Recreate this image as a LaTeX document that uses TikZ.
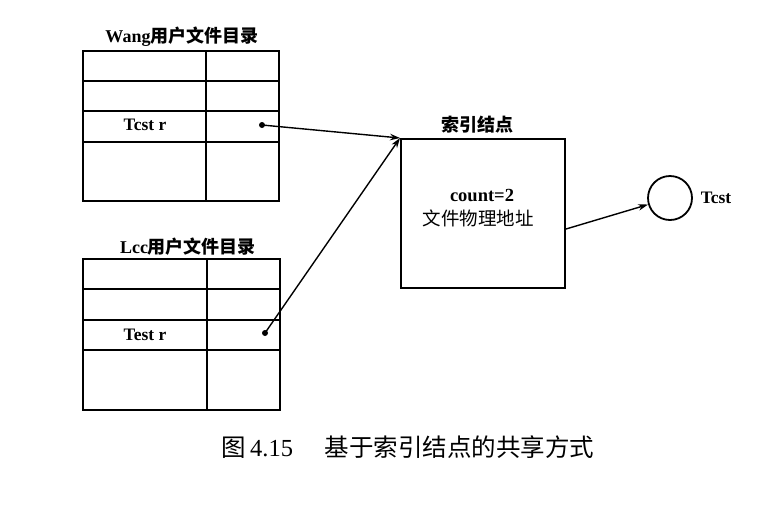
\documentclass[tikz,border=0pt]{standalone}
\usepackage{fontspec}
\setmainfont{Liberation Serif}
\newfontfamily\cjk{Noto Sans CJK SC}
\usetikzlibrary{arrows.meta}
\tikzset{
  tbl/.style={line width=1.8pt},
  tline/.style={line width=1.3pt},
  arr/.style={line width=1.4pt,-{Stealth[length=10pt,width=6.5pt]}},
  dotnode/.style={circle,fill=black,inner sep=0pt,minimum size=6pt},
  lbl/.style={font=\bfseries\fontsize{17.5}{19}\selectfont,inner sep=0pt},
  ttl/.style={font=\bfseries\fontsize{18}{20}\selectfont,inner sep=0pt},
}
\begin{document}
\begin{tikzpicture}[x=1pt,y=-1pt]
\useasboundingbox (0,0) rectangle (778,512);
% Wang table
\node[ttl] (wtitle) at (182,37) {Wang{\cjk 用户文件目录}};
\draw[tbl] (83,51) rectangle (279,201);
\draw[tline] (83,81) -- (279,81) (83,111) -- (279,111) (83,142) -- (279,142) (206,51) -- (206,201);
\node[lbl] (wname) at (145,125) {Tcst r};
\node[dotnode] (wd) at (262,125) {};
% Lee table
\node[ttl] (ltitle) at (188,247) {Lcc{\cjk 用户文件目录}};
\draw[tbl] (83,259) rectangle (280,410);
\draw[tline] (83,289) -- (280,289) (83,320) -- (280,320) (83,350) -- (280,350) (207,259) -- (207,410);
\node[lbl] (lname) at (145,335) {Test r};
\node[dotnode] (ld) at (265,333) {};
% index node
\node[draw,line width=2pt,minimum width=164pt,minimum height=149pt,inner sep=0pt] (idx) at (483,213.5) {};
\node[ttl] (ititle) at (477,125) {{\cjk 索引结点}};
\node[lbl,font=\bfseries\fontsize{18.5}{20}\selectfont] (cnt) at (482,195) {count=2};
\node[lbl,font=\fontsize{18.5}{20}\selectfont] (addr) at (478,218) {{\cjk 文件物理地址}};
% file
\node[draw,circle,line width=1.8pt,minimum size=44pt,inner sep=0pt] (tst) at (670,198) {};
\node[lbl] (tstl) at (716,198) {Tcst};
% arrows
\draw[arr] (wd.center) -- (idx.north west);
\draw[arr] (ld.center) -- (idx.north west);
\draw[arr] ([yshift=-15.5pt]idx.east) -- (tst);
% caption
\node[inner sep=0pt,font=\fontsize{24.5}{27}\selectfont] (cap) at (408,447) {{\cjk 图}\,4.15\hspace{1.3em}{\cjk 基于索引结点的共享方式}};
\end{tikzpicture}
\end{document}
